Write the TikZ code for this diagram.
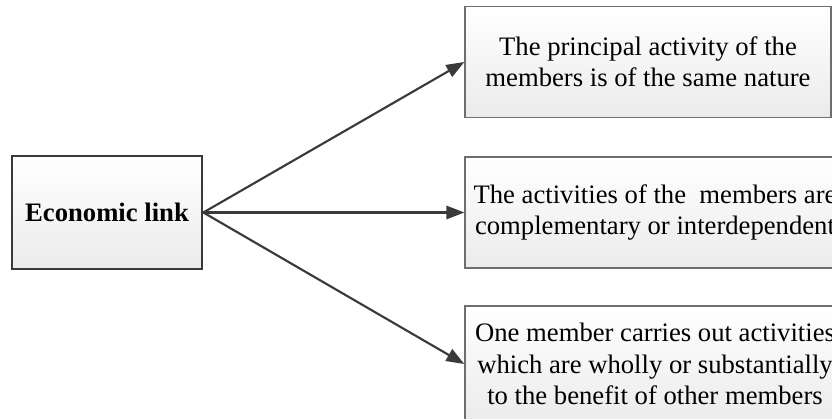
\documentclass[tikz,border=0pt]{standalone}
\usepackage{fontspec}
\setmainfont{Liberation Serif}
\usetikzlibrary{arrows.meta}
\definecolor{edgedark}{HTML}{3A3A3A}
\definecolor{edgegray}{HTML}{6E6E6E}
\definecolor{fillbottom}{HTML}{EBEBEB}
\tikzset{
  px/.style={x=0.75pt,y=-0.75pt},
  basebox/.style={rectangle, top color=white, bottom color=fillbottom,
    align=center, inner sep=0pt,
    font=\fontsize{20}{23.5}\selectfont},
  sourcebox/.style={basebox, draw=edgedark, line width=2pt,
    minimum width=142.5pt, minimum height=84.75pt, font=\fontsize{20}{23.5}\selectfont\bfseries},
  targetbox/.style={basebox, draw=edgegray, line width=1pt,
    minimum height=83.25pt},
  link/.style={draw=edgedark, line width=1.6pt,
    -{Triangle[length=13.5pt,width=10pt]}}
}
\begin{document}
\begin{tikzpicture}[px]
  \useasboundingbox (0,0) rectangle (832,418);
  \clip (0,0) rectangle (832,418);
  \node[sourcebox] (econ) at (107,212.5) {Economic link};
  \node[targetbox, minimum width=274.5pt] (same) at (648,62)
    {The principal activity of the\\members is of the same nature};
  \node[targetbox, minimum width=285pt] (compl) at (655,212.5)
    {The activities of the~ members are\\complementary or interdependent};
  \node[targetbox, minimum width=285pt, minimum height=87pt] (benefit) at (655,364)
    {One member carries out activities\\which are wholly or substantially\\to the benefit of other members};
  \draw[link] (econ.east) -- (same.west);
  \draw[link] (econ.east) -- (compl.west);
  \draw[link] (econ.east) -- (benefit.west);
\end{tikzpicture}
\end{document}
